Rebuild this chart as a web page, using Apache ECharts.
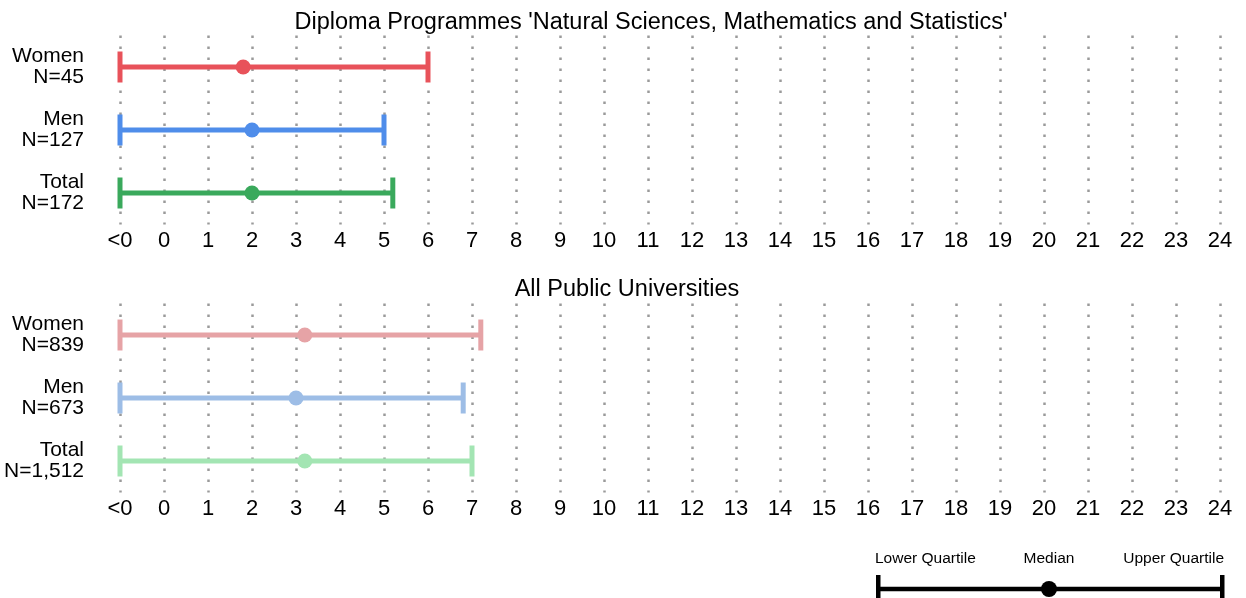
<!DOCTYPE html>
<html>
<head>
<meta charset="utf-8">
<script src="https://cdn.jsdelivr.net/npm/echarts@6/dist/echarts.min.js"></script>
<style>
  html, body { margin: 0; padding: 0; background: #fff; }
  #chart { width: 1246px; height: 598px; }
</style>
</head>
<body>
<div id="chart"></div>
<script>
// tick values on the x axis, -1 stands for "<0"
const xTicks = [-1, 0, 1, 2, 3, 4, 5, 6, 7, 8, 9, 10, 11, 12, 13, 14, 15, 16, 17, 18, 19, 20, 21, 22, 23, 24]

// Diploma programmes panel
const dipRows = ['Women\nN=45', 'Men\nN=127', 'Total\nN=172']
const dipLower = [-1, -1, -1]
const dipMedian = [1.8, 2.0, 2.0]
const dipUpper = [6.0, 5.0, 5.2]
const dipColors = ['#E8525A', '#4F8DEA', '#3AA95C']

// all public universities panel
const allRows = ['Women\nN=839', 'Men\nN=673', 'Total\nN=1,512']
const allLower = [-1, -1, -1]
const allMedian = [3.2, 3.0, 3.2]
const allUpper = [7.2, 6.8, 7.0]
const allColors = ['#E6A3A6', '#9DBDE6', '#A3E5B3']

const titles = ["Diploma Programmes 'Natural Sciences, Mathematics and Statistics'", 'All Public Universities']

const my_echart = echarts.init(document.getElementById('chart'), null, {renderer: 'canvas'})

function buildData(lower, median, upper, colors) {
  let out = []
  for (let i = 0; i < lower.length; i++) {
    out.push({value: [i, lower[i], median[i], upper[i]], itemStyle: {color: colors[i]}})
  }
  return out
}

function renderBar(params, api) {
  const row = api.value(0)
  const lo = api.coord([api.value(1), row])
  const md = api.coord([api.value(2), row])
  const hi = api.coord([api.value(3), row])
  const color = api.visual('color')
  const capH = 31
  return {
    type: 'group',
    children: [
      {type: 'line', shape: {x1: lo[0], y1: lo[1], x2: hi[0], y2: hi[1]}, style: {stroke: color, lineWidth: 5}},
      {type: 'rect', shape: {x: lo[0] - 2.5, y: lo[1] - capH / 2, width: 5, height: capH}, style: {fill: color}},
      {type: 'rect', shape: {x: hi[0] - 2.5, y: hi[1] - capH / 2, width: 5, height: capH}, style: {fill: color}},
      {type: 'circle', shape: {cx: md[0], cy: md[1], r: 7.5}, style: {fill: color}}
    ]
  }
}

function xAxisFor(gridIndex) {
  return {
    type: 'value',
    gridIndex: gridIndex,
    min: xTicks[0],
    max: xTicks[xTicks.length - 1],
    interval: 1,
    axisLine: {show: false},
    axisTick: {show: false},
    axisLabel: {
      color: '#000',
      fontSize: 22,
      margin: 5,
      showMinLabel: true,
      showMaxLabel: true,
      formatter: function (v) { return v < 0 ? '<0' : String(v) }
    },
    splitLine: {
      show: true,
      lineStyle: {color: '#9a9a9a', width: 2.5, type: [2.5, 8.5]}
    }
  }
}

function yAxisFor(gridIndex, rows) {
  return {
    type: 'category',
    gridIndex: gridIndex,
    inverse: true,
    data: rows,
    axisLine: {show: false},
    axisTick: {show: false},
    splitLine: {show: false},
    axisLabel: {
      color: '#000',
      fontSize: 21,
      lineHeight: 21,
      align: 'right',
      margin: 36
    }
  }
}

my_echart.setOption({
  animation: false,
  textStyle: {fontFamily: 'Liberation Sans, Arial, sans-serif'},
  title: [
    {text: titles[0], left: 646, top: 6, textAlign: 'center',
      textStyle: {fontSize: 23.5, fontWeight: 'normal', color: '#000'}},
    {text: titles[1], left: 622, top: 273, textAlign: 'center',
      textStyle: {fontSize: 23.5, fontWeight: 'normal', color: '#000'}}
  ],
  grid: [
    {left: 120, right: 26, top: 35.5, height: 189},
    {left: 120, right: 26, top: 303.5, height: 189}
  ],
  xAxis: [xAxisFor(0), xAxisFor(1)],
  yAxis: [yAxisFor(0, dipRows), yAxisFor(1, allRows)],
  series: [
    {
      type: 'custom',
      xAxisIndex: 0,
      yAxisIndex: 0,
      renderItem: renderBar,
      encode: {x: [1, 2, 3], y: 0},
      data: buildData(dipLower, dipMedian, dipUpper, dipColors)
    },
    {
      type: 'custom',
      xAxisIndex: 1,
      yAxisIndex: 1,
      renderItem: renderBar,
      encode: {x: [1, 2, 3], y: 0},
      data: buildData(allLower, allMedian, allUpper, allColors)
    }
  ],
  // key for the whisker glyph, bottom right
  graphic: [
    {type: 'line', shape: {x1: 878, y1: 589, x2: 1222, y2: 589}, style: {stroke: '#000', lineWidth: 4.5}},
    {type: 'rect', shape: {x: 876, y: 575, width: 4.5, height: 28}, style: {fill: '#000'}},
    {type: 'rect', shape: {x: 1220, y: 575, width: 4.5, height: 28}, style: {fill: '#000'}},
    {type: 'circle', shape: {cx: 1049, cy: 589, r: 8}, style: {fill: '#000'}},
    {type: 'text', x: 875, y: 559, style: {text: 'Lower Quartile', fontSize: 15.5, fill: '#000', align: 'left', verticalAlign: 'middle', fontFamily: 'Liberation Sans'}},
    {type: 'text', x: 1049, y: 559, style: {text: 'Median', fontSize: 15.5, fill: '#000', align: 'center', verticalAlign: 'middle', fontFamily: 'Liberation Sans'}},
    {type: 'text', x: 1224, y: 559, style: {text: 'Upper Quartile', fontSize: 15.5, fill: '#000', align: 'right', verticalAlign: 'middle', fontFamily: 'Liberation Sans'}}
  ]
})
</script>
</body>
</html>
